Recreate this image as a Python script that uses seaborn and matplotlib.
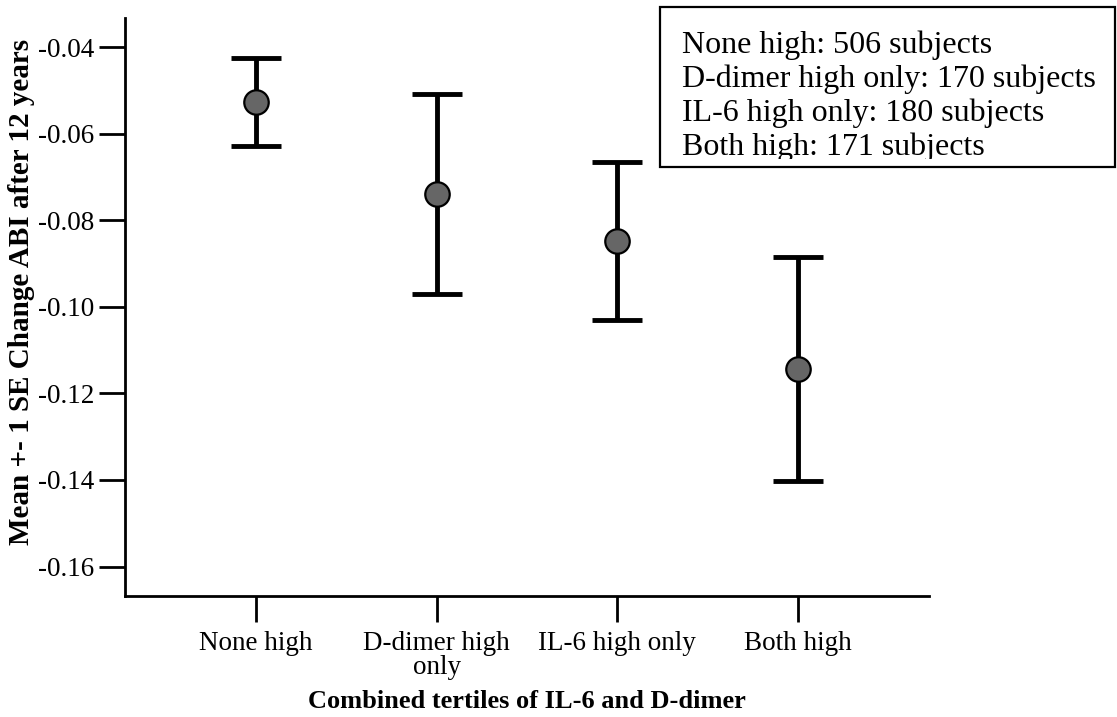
import matplotlib
matplotlib.use("Agg")
import matplotlib.pyplot as plt
import seaborn as sns
import pandas as pd
from matplotlib.patches import Rectangle
from matplotlib.transforms import Bbox

# ---- data ----
categories = ["None high", "D-dimer high\nonly", "IL-6 high only", "Both high"]
means = [-0.0526, -0.0740, -0.0848, -0.1144]
upper = [-0.0426, -0.0509, -0.0666, -0.0884]
lower = [-0.0629, -0.0971, -0.1031, -0.1403]
yticks = [-0.04, -0.06, -0.08, -0.10, -0.12, -0.14, -0.16]
ytick_labels = ["-0.04", "-0.06", "-0.08", "-0.10", "-0.12", "-0.14", "-0.16"]
legend_lines = ["None high: 506 subjects",
                "D-dimer high only: 170 subjects",
                "IL-6 high only: 180 subjects",
                "Both high: 171 subjects"]
xlabel = "Combined tertiles of IL-6 and D-dimer"
ylabel = "Mean +- 1 SE Change ABI after 12 years"

sns.set_theme(style="ticks")
plt.rcParams["font.family"] = ["Liberation Serif", "DejaVu Serif"]
plt.rcParams["axes.unicode_minus"] = False

W, H = 1117, 717
fig = plt.figure(figsize=(W / 100, H / 100), dpi=100)
ax = fig.add_axes([125 / W, 1 - 596 / H, (929 - 125) / W, (596 - 18) / H])

df = pd.DataFrame({"cat": categories, "mean": means})
err_lo = [m - l for m, l in zip(means, lower)]
err_hi = [u - m for m, u in zip(means, upper)]

ax.errorbar(range(len(categories)), means, yerr=[err_lo, err_hi], fmt="none",
            ecolor="black", elinewidth=3.5, capsize=18, capthick=3.5, zorder=2)
sns.scatterplot(data=df, x="cat", y="mean", ax=ax, s=310, color="#666666",
                edgecolor="black", linewidth=1.6, zorder=3, legend=False)

ax.set_xlim(-0.725, 3.725)
ax.set_ylim(-0.1668, -0.0333)
ax.set_xticks(range(len(categories)))
ax.set_xticklabels(categories, fontsize=19.5, linespacing=0.95)
ax.set_yticks(yticks)
ax.set_yticklabels(ytick_labels, fontsize=19.5)
ax.tick_params(axis="both", direction="out", length=19, width=2, color="black",
               labelcolor="black")
ax.tick_params(axis="x", pad=6)
ax.tick_params(axis="y", pad=3)
for side in ["top", "right"]:
    ax.spines[side].set_visible(False)
for side in ["left", "bottom"]:
    ax.spines[side].set_linewidth(2)
    ax.spines[side].set_color("black")

ax.set_xlabel(xlabel, fontsize=19, fontweight="bold", color="black")
ax.set_ylabel(ylabel, fontsize=21, fontweight="bold", color="black")
ax.xaxis.set_label_coords(0.5, -0.162)
ax.yaxis.set_label_coords(-0.112, 0.526)

# annotation box (text clipped at bottom like the reference)
bx0, by0, bx1, by1 = 660, 7, 1115, 167
rect = Rectangle((bx0 / W, 1 - by1 / H), (bx1 - bx0) / W, (by1 - by0) / H,
                 transform=fig.transFigure, facecolor="white",
                 edgecolor="black", linewidth=1.6, zorder=5)
fig.add_artist(rect)
clip = Bbox.from_extents(0, H - 159, W, H)
baselines = [53, 87, 121, 155]
for line, b in zip(legend_lines, baselines):
    t = fig.text(682 / W, 1 - b / H, line, fontsize=23, ha="left",
                 va="baseline", color="black", zorder=6)
    t.set_clip_box(clip)
    t.set_clip_on(True)

fig.savefig("out.png", dpi=100, facecolor="white")
